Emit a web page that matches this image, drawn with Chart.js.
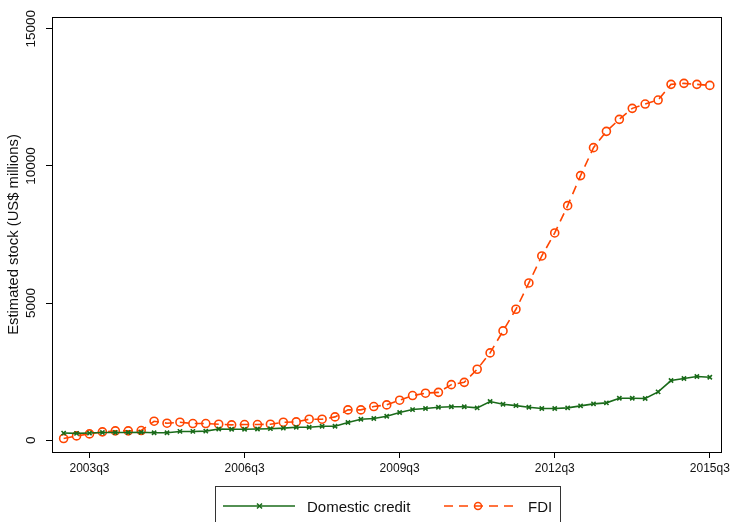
<!DOCTYPE html>
<html>
<head>
<meta charset="utf-8">
<script src="https://cdn.jsdelivr.net/npm/chart.js@4.4.1/dist/chart.umd.min.js"></script>
<style>
  html, body { margin: 0; padding: 0; background: #fff; }
  #wrap { position: relative; width: 733px; height: 522px; overflow: hidden; }
  #c { position: absolute; left: 0; top: 0; }
  #legend { position: absolute; left: 215px; top: 486px; width: 346px; height: 50px;
    border: 1px solid #333; box-sizing: border-box; font-family: 'Liberation Sans', Arial, sans-serif;
    font-size: 15px; color: #111; }
  .item { position: absolute; top: 10px; display: flex; align-items: center; height: 18px; }
  .item svg { display: block; }
  .item span { margin-left: 11px; }
</style>
</head>
<body>
<div id="wrap">
  <canvas id="c" width="733" height="522"></canvas>
  <div id="legend">
    <div class="item" style="left:7px">
      <svg width="73" height="18"><line x1="0" y1="9" x2="72" y2="9" stroke="#1a6b1a" stroke-width="1.5"/>
        <path d="M34 6.5 L39 11.5 M39 6.5 L34 11.5" stroke="#1a6b1a" stroke-width="1.5"/></svg>
      <span>Domestic credit</span>
    </div>
    <div class="item" style="left:228px">
      <svg width="73" height="18"><line x1="0" y1="9" x2="72" y2="9" stroke="#ff4500" stroke-width="1.5" stroke-dasharray="9,6"/>
        <circle cx="34" cy="9" r="3.5" fill="none" stroke="#ff4500" stroke-width="1.5"/></svg>
      <span>FDI</span>
    </div>
  </div>
</div>
<script>
const quarters = ['2003q1','2003q2','2003q3','2003q4','2004q1','2004q2','2004q3','2004q4',
  '2005q1','2005q2','2005q3','2005q4','2006q1','2006q2','2006q3','2006q4',
  '2007q1','2007q2','2007q3','2007q4','2008q1','2008q2','2008q3','2008q4',
  '2009q1','2009q2','2009q3','2009q4','2010q1','2010q2','2010q3','2010q4',
  '2011q1','2011q2','2011q3','2011q4','2012q1','2012q2','2012q3','2012q4',
  '2013q1','2013q2','2013q3','2013q4','2014q1','2014q2','2014q3','2014q4',
  '2015q1','2015q2','2015q3'];
const domesticCredit = [260,250,260,280,280,280,290,270,270,320,320,330,410,400,400,410,
  420,440,474,474,510,510,644,765,790,875,1008,1117,1154,1203,1220,1220,
  1178,1409,1310,1260,1203,1154,1154,1178,1251,1324,1361,1531,1531,1519,
  1762,2175,2248,2321,2296];
const fdi = [62,157,230,303,339,339,353,692,620,656,607,607,583,559,571,571,
  583,656,668,765,765,850,1105,1105,1227,1288,1458,1628,1713,1745,2025,2110,
  2587,3183,3985,4774,5734,6717,7556,8552,9647,10667,11261,11698,12099,12257,
  12403,12974,13010,12974,12937];
const xTickLabels = ['2003q3','2006q3','2009q3','2012q3','2015q3'];
const yTickValues = [0,5000,10000,15000];

const FONT = "'Liberation Sans', Arial, Helvetica, sans-serif";
const GREEN = '#1a6b1a';
const ORANGE = '#ff4500';

const toPts = arr => arr.map((v, i) => ({ x: i, y: v }));

const framePlugin = {
  id: 'frame',
  afterDraw(chart) {
    const { ctx, chartArea: a, scales } = chart;
    ctx.save();
    ctx.strokeStyle = '#000';
    ctx.lineWidth = 1;
    ctx.strokeRect(Math.round(a.left) + 0.5, Math.round(a.top) + 0.5,
      Math.round(a.right - a.left), Math.round(a.bottom - a.top));
    // rotated y tick labels
    ctx.fillStyle = '#111';
    ctx.font = '13.5px ' + FONT;
    ctx.textAlign = 'center';
    ctx.textBaseline = 'middle';
    yTickValues.forEach(v => {
      const py = scales.y.getPixelForValue(v);
      ctx.save();
      ctx.translate(31, py);
      ctx.rotate(-Math.PI / 2);
      ctx.fillText(String(v), 0, 0);
      ctx.restore();
    });
    // y axis title
    ctx.font = '14.8px ' + FONT;
    ctx.save();
    ctx.translate(14, (a.top + a.bottom) / 2);
    ctx.rotate(-Math.PI / 2);
    ctx.fillText('Estimated stock (US$ millions)', 0, 0);
    ctx.restore();
    ctx.restore();
  }
};

new Chart(document.getElementById('c'), {
  type: 'line',
  data: {
    datasets: [
      {
        label: 'Domestic credit',
        data: toPts(domesticCredit),
        borderColor: GREEN,
        backgroundColor: GREEN,
        borderWidth: 1.6,
        pointStyle: 'crossRot',
        pointRadius: 3,
        pointBorderWidth: 1.6,
        tension: 0
      },
      {
        label: 'FDI',
        data: toPts(fdi),
        borderColor: ORANGE,
        backgroundColor: 'rgba(0,0,0,0)',
        borderWidth: 1.6,
        borderDash: [9, 6],
        pointStyle: 'circle',
        pointRadius: 4,
        pointBorderWidth: 1.6,
        tension: 0
      }
    ]
  },
  options: {
    responsive: false,
    animation: false,
    layout: { padding: { top: 17, right: 10, left: 0, bottom: 0 } },
    plugins: { legend: { display: false }, tooltip: { enabled: false } },
    scales: {
      x: {
        type: 'linear',
        min: -0.9,
        max: 50.9,
        afterBuildTicks(scale) {
          scale.ticks = xTickLabels.map(l => ({ value: quarters.indexOf(l) }));
        },
        afterFit(scale) { scale.height = 70; },
        grid: { drawOnChartArea: false, drawTicks: true, tickLength: 6, color: '#000' },
        border: { display: true, color: '#000', width: 1 },
        ticks: {
          autoSkip: false, maxRotation: 0, minRotation: 0, padding: 3,
          color: '#111', font: { family: FONT, size: 12 },
          callback: v => quarters[v]
        }
      },
      y: {
        type: 'linear',
        min: -430,
        max: 15430,
        afterBuildTicks(scale) {
          scale.ticks = yTickValues.map(v => ({ value: v }));
        },
        afterFit(scale) { scale.width = 52; },
        grid: { drawOnChartArea: false, drawTicks: true, tickLength: 6, color: '#000' },
        border: { display: true, color: '#000', width: 1 },
        ticks: { color: 'rgba(0,0,0,0)', font: { family: FONT, size: 12 } }
      }
    }
  },
  plugins: [framePlugin]
});
</script>
</body>
</html>
